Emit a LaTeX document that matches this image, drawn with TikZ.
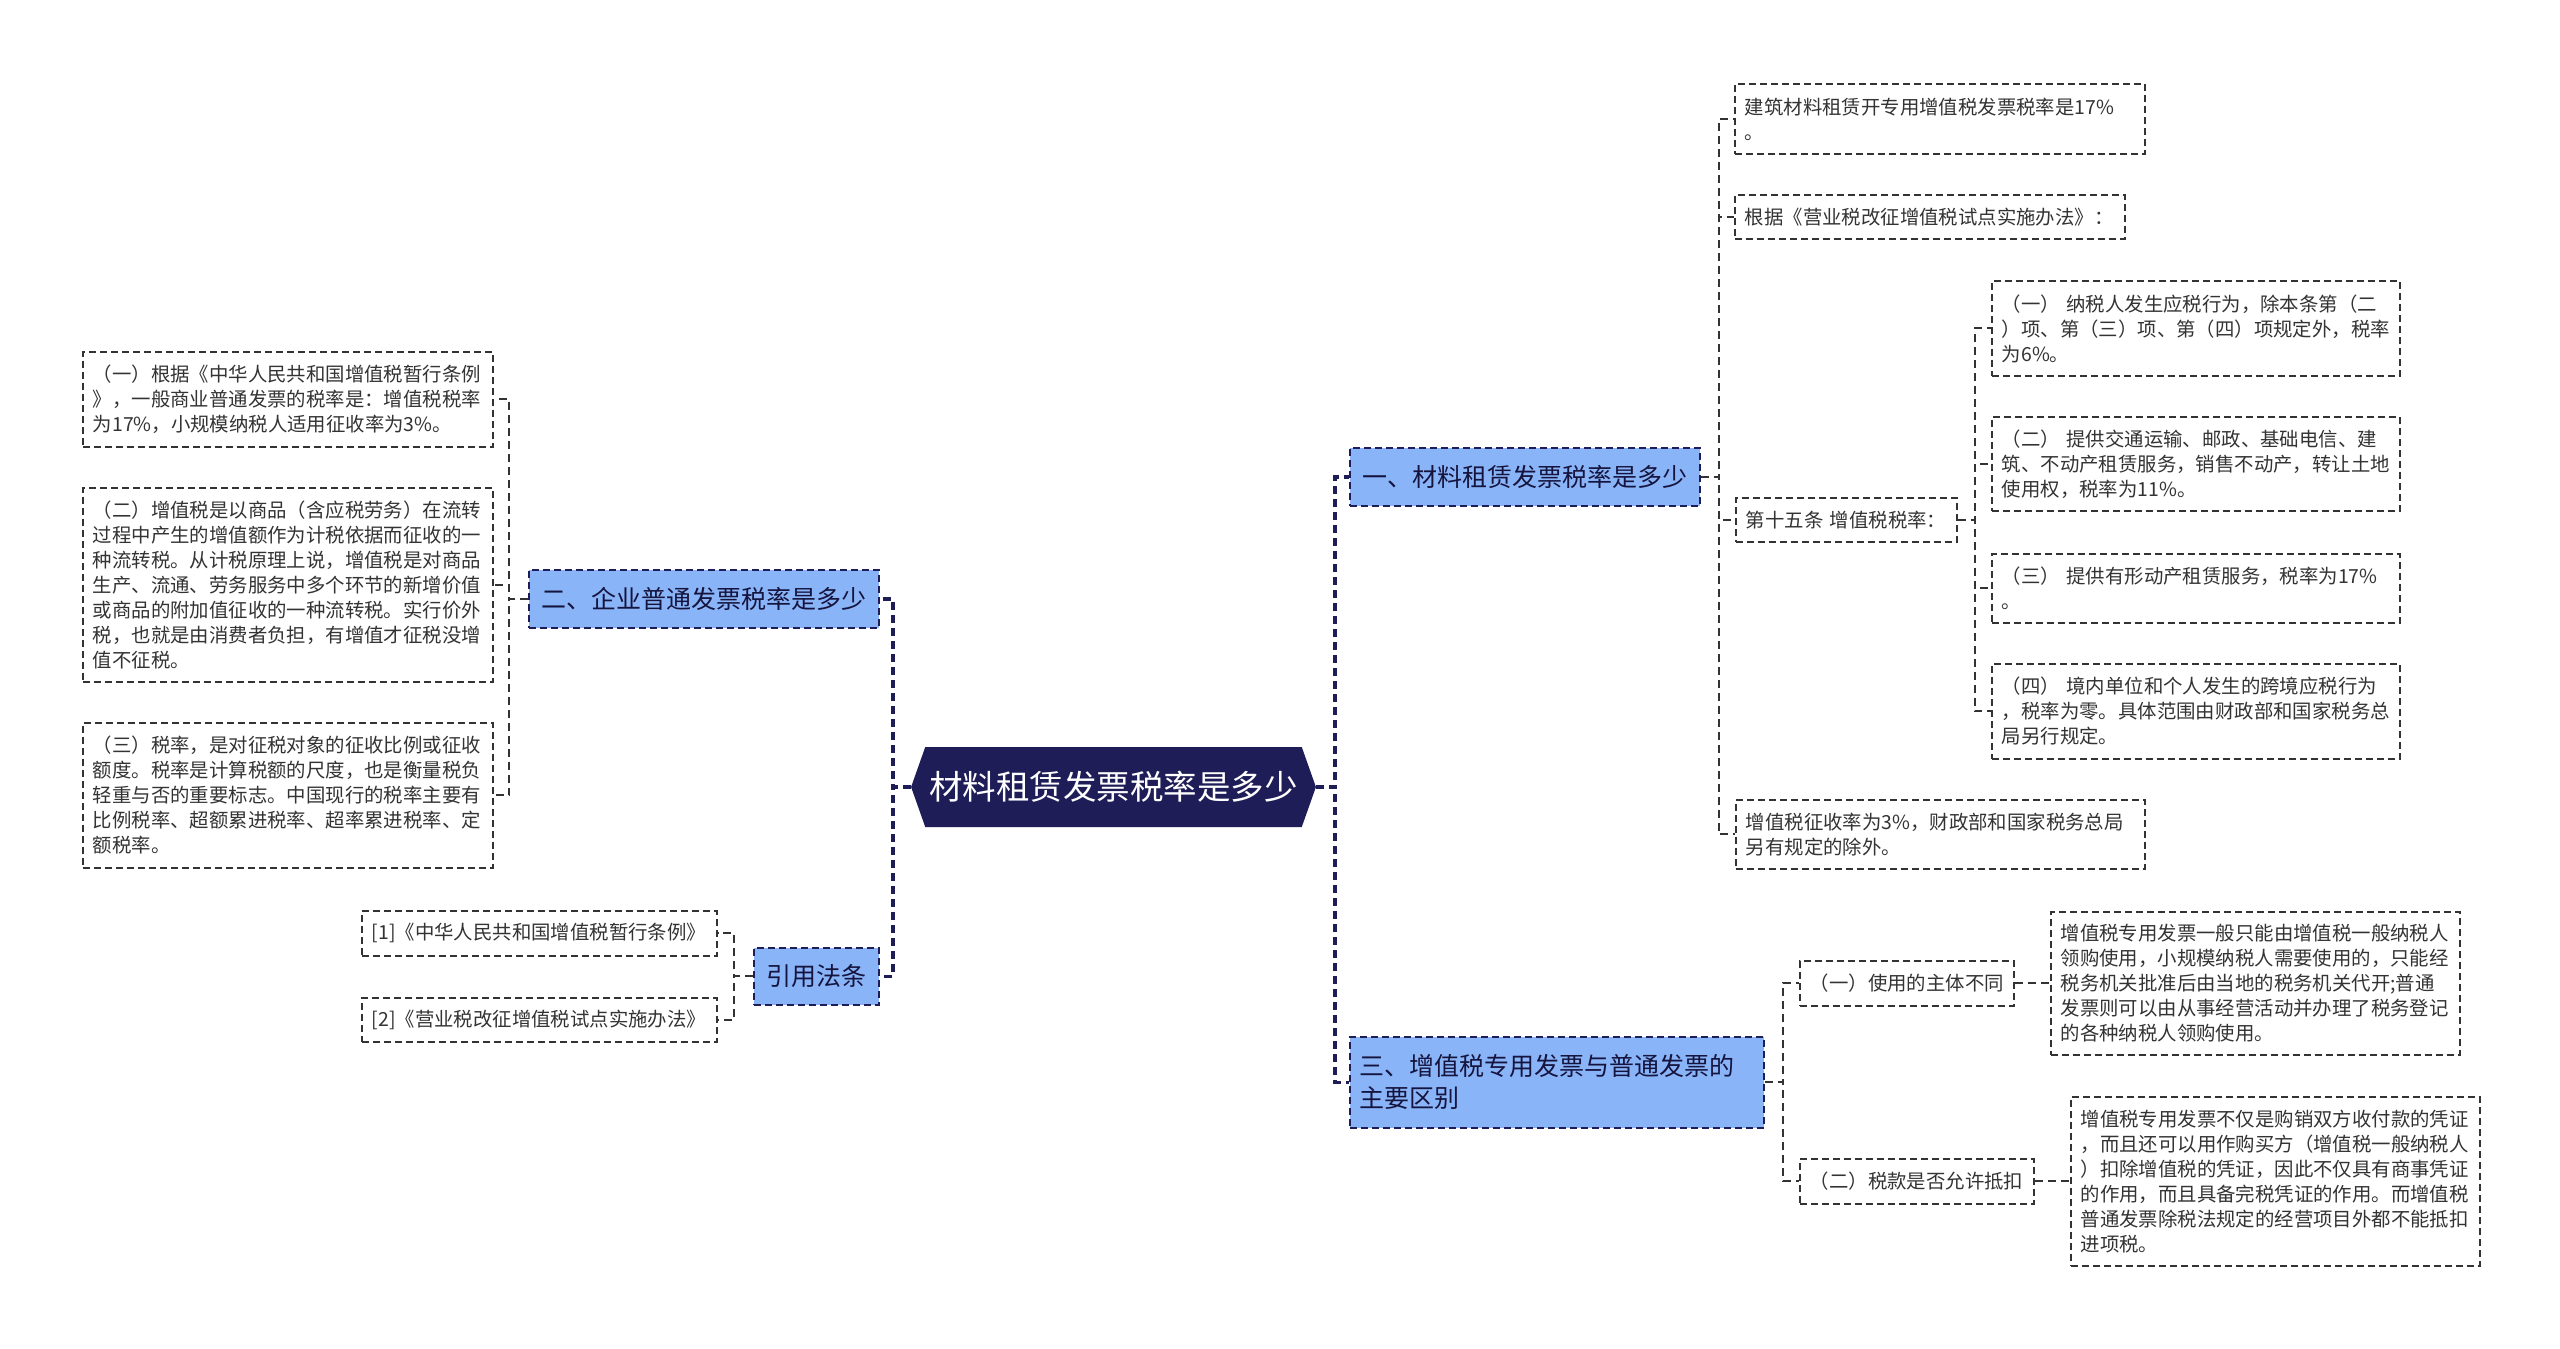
\documentclass[tikz,border=0pt]{standalone}
\usepackage{fontspec}
\setmainfont{Noto Sans CJK SC}
\usepackage{xcolor}
\usepackage{tikz}
\usetikzlibrary{positioning, shapes.symbols}
\definecolor{navy}{RGB}{30,29,88}
\definecolor{topicblue}{RGB}{138,180,248}
\definecolor{inkgray}{RGB}{51,51,51}
\tikzset{
  box/.style={anchor=north west, align=left, inner xsep=10pt, inner ysep=6pt,
              line width=1.8pt, dash pattern=on 7pt off 4pt},
  leaf/.style={box, draw=inkgray, fill=white, text=inkgray,
               font=\fontsize{19.4}{25}\selectfont},
  topic/.style={box, draw=navy, fill=topicblue, text=navy!70!black,
                font=\fontsize{25}{32}\selectfont},
  mainlink/.style={draw=navy, line width=3.5pt, dash pattern=on 8pt off 5pt},
  link/.style={draw=inkgray, line width=2pt, dash pattern=on 8pt off 5pt}
}

\begin{document}
\begin{tikzpicture}[
  x=1pt, y=-1pt,
  rootnode/.style={signal, signal to=east and west, signal pointer angle=141,
                   fill=navy, text=white, minimum width=401pt, minimum height=80pt,
                   inner xsep=4pt, font=\fontsize{33.5}{40}\selectfont}
]

% Page
\fill[white] (0,0) rectangle (2560,1349);
\useasboundingbox (0,0) rectangle (2560,1349);

% Root
\node[rootnode] (root) at (1113.5,787) {材料租赁发票税率是多少};

% First level
\node[topic, minimum width=350, minimum height=58] (b1) at (1349,447) {一、材料租赁发票税率是多少};
\node[topic, minimum width=350, minimum height=58] (b2) at (528,569) {二、企业普通发票税率是多少};
\node[topic, text width=394, minimum height=91] (b3) at (1349,1036) {三、增值税专用发票与普通发票的\\主要区别};
\node[topic, minimum width=125, minimum height=57] (b4) at (753,947) {引用法条};

% Left leaves
\node[leaf, text width=390, minimum height=95] (l1) at (82,351) {（一）根据《中华人民共和国增值税暂行条例\\》，一般商业普通发票的税率是：增值税税率\\为17\%，小规模纳税人适用征收率为3\%。};
\node[leaf, text width=390, minimum height=194] (l2) at (82,487) {（二）增值税是以商品（含应税劳务）在流转\\过程中产生的增值额作为计税依据而征收的一\\种流转税。从计税原理上说，增值税是对商品\\生产、流通、劳务服务中多个环节的新增价值\\或商品的附加值征收的一种流转税。实行价外\\税，也就是由消费者负担，有增值才征税没增\\值不征税。};
\node[leaf, text width=390, minimum height=145] (l3) at (82,722) {（三）税率，是对征税对象的征收比例或征收\\额度。税率是计算税额的尺度，也是衡量税负\\轻重与否的重要标志。中国现行的税率主要有\\比例税率、超额累进税率、超率累进税率、定\\额税率。};
\node[leaf, text width=335, minimum height=45] (r1) at (361,910) {[1]《中华人民共和国增值税暂行条例》};
\node[leaf, text width=335, minimum height=44] (r2) at (361,997) {[2]《营业税改征增值税试点实施办法》};

% Right leaves under b1
\node[leaf, text width=390, minimum height=70] (a1) at (1734,83) {建筑材料租赁开专用增值税发票税率是17\%\\。};
\node[leaf, text width=370, minimum height=44] (a2) at (1734,194) {根据《营业税改征增值税试点实施办法》：};
\node[leaf, text width=201, minimum height=44] (a3) at (1735,497) {第十五条 增值税税率：};
\node[leaf, text width=389, minimum height=69] (a4) at (1735,799) {增值税征收率为3\%，财政部和国家税务总局\\另有规定的除外。};

% Items of a3
\node[leaf, text width=388, minimum height=95] (c1) at (1991,280) {（一） 纳税人发生应税行为，除本条第（二\\）项、第（三）项、第（四）项规定外，税率\\为6\%。};
\node[leaf, text width=388, minimum height=94] (c2) at (1991,416) {（二） 提供交通运输、邮政、基础电信、建\\筑、不动产租赁服务，销售不动产，转让土地\\使用权，税率为11\%。};
\node[leaf, text width=388, minimum height=69] (c3) at (1991,553) {（三） 提供有形动产租赁服务，税率为17\%\\。};
\node[leaf, text width=388, minimum height=95] (c4) at (1991,663) {（四） 境内单位和个人发生的跨境应税行为\\，税率为零。具体范围由财政部和国家税务总\\局另行规定。};

% Leaves under b3
\node[leaf, text width=194, minimum height=45] (d1) at (1799,960) {（一）使用的主体不同};
\node[leaf, text width=214, minimum height=45] (d2) at (1799,1158) {（二）税款是否允许抵扣};
\node[leaf, anchor=west, right=35pt of d1, text width=389, minimum height=143] (e1) {增值税专用发票一般只能由增值税一般纳税人\\领购使用，小规模纳税人需要使用的，只能经\\税务机关批准后由当地的税务机关代开;普通\\发票则可以由从事经营活动并办理了税务登记\\的各种纳税人领购使用。};
\node[leaf, anchor=west, right=35pt of d2, text width=389, minimum height=169] (e2) {增值税专用发票不仅是购销双方收付款的凭证\\，而且还可以用作购买方（增值税一般纳税人\\）扣除增值税的凭证，因此不仅具有商事凭证\\的作用，而且具备完税凭证的作用。而增值税\\普通发票除税法规定的经营项目外都不能抵扣\\进项税。};

% Links from root
\draw[mainlink] (root.west) -- ++(-18,0) |- (b2.east);
\draw[mainlink] (root.west) -- ++(-18,0) |- (b4.east);
\draw[mainlink] (root.east) -- ++(19,0) |- (b1.west);
\draw[mainlink] (root.east) -- ++(19,0) |- (b3.west);

% Links to leaves
\foreach \leafname in {l1,l2,l3}
  \draw[link] (b2.west) -- ++(-19,0) |- (\leafname.east);
\foreach \leafname in {r1,r2}
  \draw[link] (b4.west) -- ++(-19,0) |- (\leafname.east);
\foreach \leafname in {a1,a2,a3,a4}
  \draw[link] (b1.east) -- ++(18,0) |- (\leafname.west);
\foreach \leafname in {c1,c2,c3,c4}
  \draw[link] (a3.east) -- ++(17,0) |- (\leafname.west);
\foreach \leafname in {d1,d2}
  \draw[link] (b3.east) -- ++(18,0) |- (\leafname.west);
\draw[link] (d1) -- (e1);
\draw[link] (d2) -- (e2);

\end{tikzpicture}
\end{document}
